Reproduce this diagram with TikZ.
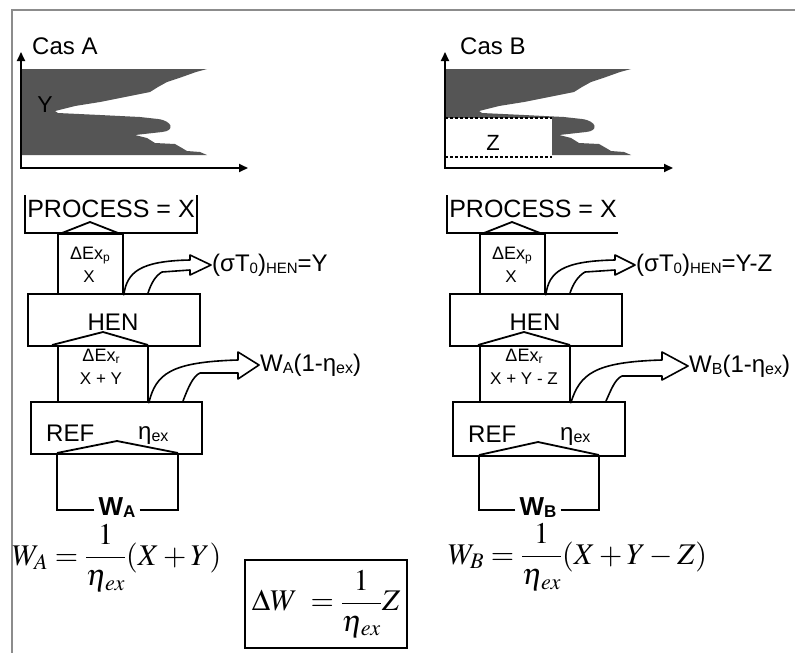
\documentclass[tikz,border=0pt]{standalone}
\usepackage{mathptmx}
\usepackage[no-math]{fontspec}
\setmainfont{Liberation Sans}
\usetikzlibrary{arrows.meta}

\definecolor{framegray}{RGB}{140,140,140}
\definecolor{profilegray}{RGB}{85,85,85}

% font sizes used in the block diagrams
\newcommand\fbig{\fontsize{24}{28}\selectfont}
\newcommand\fproc{\fontsize{25}{28}\selectfont}
\newcommand\fmid{\fontsize{18}{20}\selectfont}
\newcommand\fsmall{\fontsize{17}{20}\selectfont}
\newcommand\subx[2]{\raisebox{-2pt}{\fontsize{#1}{#1}\selectfont #2}}
\newcommand\fmath{\fontsize{30}{34}\selectfont}
\newcommand\etaex{\eta_{\kern1pt ex}}

\begin{document}
\begin{tikzpicture}[x=1pt,y=-1pt,
  blk/.style={draw, line width=1.8pt, inner sep=0pt, anchor=north west},
  thick line/.style={line width=1.8pt, line join=miter},
  fat/.style={line width=1.6pt, line join=round, line cap=round},
  txt/.style={inner sep=1pt},
  axis/.style={line width=1.8pt, {Triangle[length=9pt,width=8pt]}-{Triangle[length=9pt,width=8pt]}},
  cut/.style={line width=1.1pt, dash pattern=on 3pt off 2pt},
  profile/.pic={
    \fill[profilegray] (22,69) -- (207,69) -- (196,72) -- (182,77) -- (167,82)
      -- (158,87) -- (150,92) -- (130,96) -- (100,102) -- (75,106) -- (55,111)
      -- (58,113) -- (100,115) -- (140,117) -- (158,119)
      .. controls (173,121) and (175,131) .. (162,132)
      -- (135,135) -- (147,138) -- (155,143) -- (175,144) -- (182,148)
      -- (187,151) -- (200,152) -- (207,155) -- (22,155) -- cycle;
  }]
\fill[white] (0,0) rectangle (795,653);
\useasboundingbox (0,0) rectangle (795,653);

% outer frame
\draw[framegray, line width=2.2pt] (12,653) -- (12,10) -- (795,10);

% ---------- composite curve, case A ----------
\pic (profA) at (0,0) {profile};
\node[txt, anchor=center] (letY) at (45,105) {\fontsize{23}{25}\selectfont Y};
\draw[axis] (21,52) -- (21,168) -- (248,168);
\node[txt, anchor=west] (casA) at (31,46) {\fbig Cas A};

% ---------- composite curve, case B ----------
\pic (profB) at (424,0) {profile};
\fill[white] (445,118) rectangle (552,157.6);
\draw[cut] (445,118) -- (552,118);
\draw[cut] (445,157) -- (552,157);
\node[txt] (letZ) at (493,143) {\fontsize{22}{24}\selectfont Z};
\draw[axis] (445,52) -- (445,168) -- (673,168);
\node[txt, anchor=west] (casB) at (459,46) {\fbig Cas B};

% ---------- block diagram, case A ----------
\draw[thick line] (25,195) -- (25,233) -- (197,233) -- (197,195);
\node[txt] (procA) at (111,209) {\fproc PROCESS = X};
\node[blk, minimum width=65pt, minimum height=60pt] (pA) at (57,233) {};
\draw[thick line] (62,233) -- (90,222) -- (118,233);
\node[txt] (pAa) at (90,256) {\fmid ΔEx\subx{12}{p}};
\node[txt] (pAb) at (89,277) {\fsmall X};
\node[blk, minimum width=172pt, minimum height=52pt] (henA) at (27,293) {};
\node[txt] (henAt) at (113,322) {\fbig HEN};
\draw[thick line] (52,345) -- (103,332) -- (148,345);
\node[blk, minimum width=90pt, minimum height=56pt] (rA) at (57,345) {};
\node[txt] (rAa) at (101,356) {\fmid ΔEx\subx{12}{r}};
\node[txt] (rAb) at (101,379) {\fsmall X + Y};
\node[blk, minimum width=171pt, minimum height=52pt] (refA) at (30,401) {};
\node[txt, anchor=base west] (refAt) at (45,441) {\fbig REF};
\node[txt, anchor=base west] (etaA) at (137,439) {\fbig η\subx{16}{ex}};
\draw[thick line] (57,453) -- (117,441) -- (178,453);
\node[txt, inner xsep=4pt, inner ysep=0pt] (wA) at (117,508) {\fontsize{26}{28}\selectfont\bfseries W\subx{17}{A}};
\draw[thick line] (wA.west |- 0,510) -- (57,510) -- (57,453);
\draw[thick line] (wA.east |- 0,510) -- (178,510) -- (178,453);

\node[txt, anchor=west] (sigA) at (211,265) {\fbig(σT\subx{15}{0})\subx{15}{HEN}=Y};
\node[txt, anchor=west] (wlA) at (259,365) {\fbig W\subx{16}{A}(1-η\subx{16}{ex})};
\draw[fat] (pA.south east) .. controls (127,272) and (140,261) .. (190,260)
  -- (190,255) -- (sigA.west) -- (190,275) -- (190,270) -- (162,272)
  .. controls (155,276) and (151,284) .. (148,293);
\draw[fat] (rA.south east) .. controls (156,374) and (170,362) .. (238,360)
  -- (238,352) -- (wlA.west) -- (238,379) -- (238,373) -- (200,373)
  .. controls (193,376) and (188,388) .. (183,401);

\node[anchor=base west, inner sep=0pt] (fA) at (12,565)
  {\fmath$\displaystyle W_A=\frac{1}{\etaex}(X+Y)$};

\node[draw, line width=1.5pt, minimum width=162pt, minimum height=88pt, inner sep=0pt]
  (dW) at (326,604) {\fmath$\displaystyle \Delta W\;=\frac{1}{\etaex}Z$};

% ---------- block diagram, case B ----------
\draw[thick line] (447,195) -- (447,233) -- (618,233);
\node[txt] (procB) at (533,209) {\fproc PROCESS = X};
\node[blk, minimum width=65pt, minimum height=60pt] (pB) at (479,233) {};
\draw[thick line] (484,233) -- (512,222) -- (540,233);
\node[txt] (pBa) at (512,256) {\fmid ΔEx\subx{12}{p}};
\node[txt] (pBb) at (511,277) {\fsmall X};
\node[blk, minimum width=172pt, minimum height=52pt] (henB) at (449,293) {};
\node[txt] (henBt) at (535,322) {\fbig HEN};
\draw[thick line] (478,345) -- (524,332) -- (570,345);
\node[blk, minimum width=90pt, minimum height=56pt] (rB) at (479,345) {};
\node[txt] (rBa) at (524,356) {\fmid ΔEx\subx{12}{r}};
\node[txt] (rBb) at (524,379) {\fsmall X + Y - Z};
\node[blk, minimum width=172pt, minimum height=54pt] (refB) at (452,401) {};
\node[txt, anchor=base west] (refBt) at (467,442) {\fbig REF};
\node[txt, anchor=base west] (etaB) at (559,440) {\fbig η\subx{16}{ex}};
\draw[thick line] (479,455) -- (538,442) -- (599,455);
\node[txt, inner xsep=4pt, inner ysep=0pt] (wB) at (538,508) {\fontsize{26}{28}\selectfont\bfseries W\subx{17}{B}};
\draw[thick line] (wB.west |- 0,510) -- (479,510) -- (479,455);
\draw[thick line] (wB.east |- 0,510) -- (599,510) -- (599,455);

\node[txt, anchor=west] (sigB) at (635,265) {\fbig(σT\subx{15}{0})\subx{15}{HEN}=Y-Z};
\node[txt, anchor=west] (wlB) at (688,366) {\fbig W\subx{16}{B}(1-η\subx{16}{ex})};
\draw[fat] (pB.south east) .. controls (549,272) and (562,261) .. (615,260)
  -- (615,255) -- (sigB.west) -- (615,275) -- (615,270) -- (585,272)
  .. controls (578,276) and (573,284) .. (570,293);
\draw[fat] (rB.south east) .. controls (580,374) and (594,362) .. (662,360)
  -- (662,352) -- (wlB.west) -- (662,380) -- (662,376) -- (622,376)
  .. controls (615,379) and (611,390) .. (606,401);

\node[anchor=base west, inner sep=0pt] (fB) at (448,564)
  {\fmath$\displaystyle W_B=\frac{1}{\etaex}(X+Y-Z)$};
\end{tikzpicture}
\end{document}
